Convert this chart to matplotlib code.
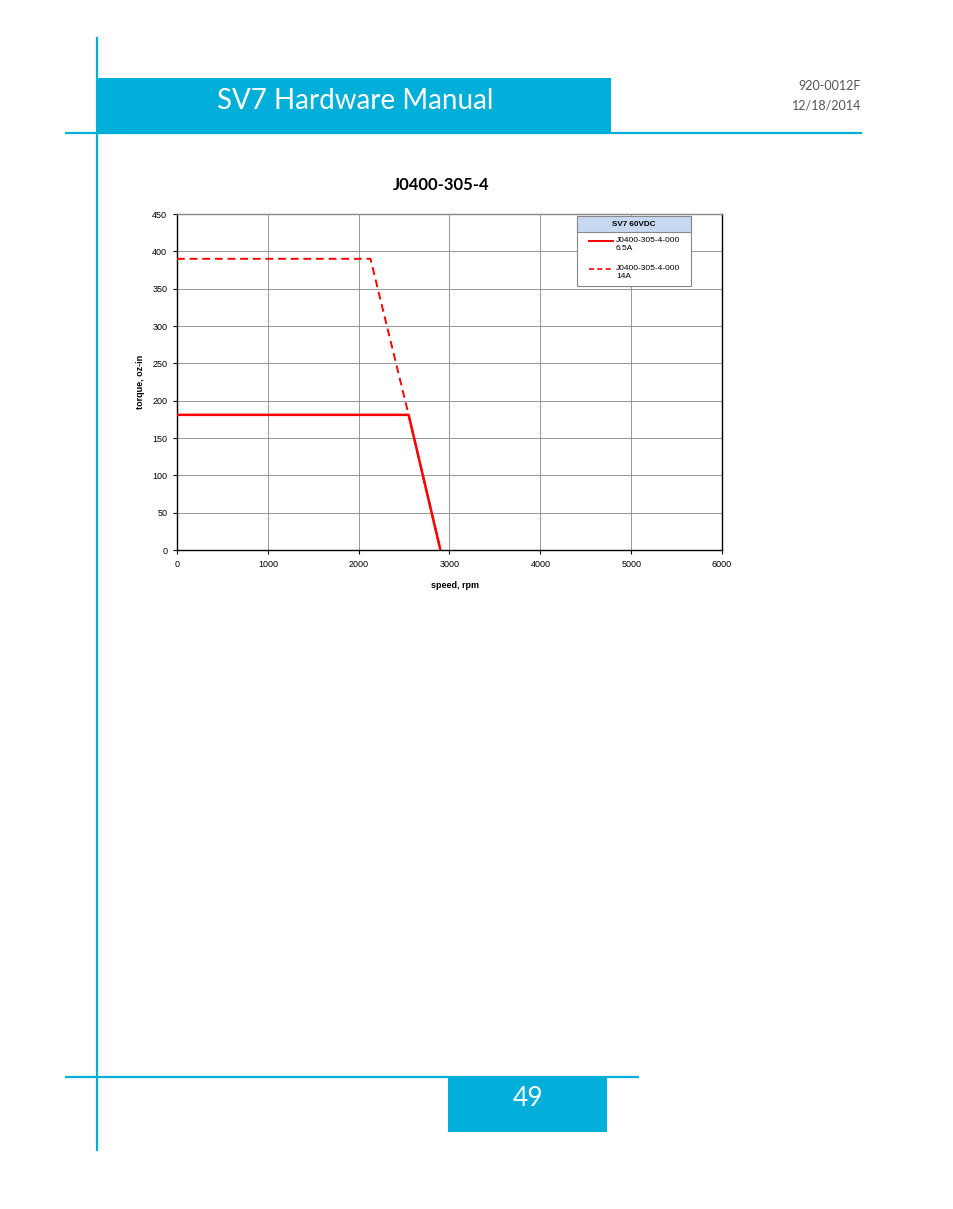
import matplotlib
matplotlib.use("Agg")
import matplotlib.pyplot as plt
from matplotlib.patches import Rectangle
from matplotlib.lines import Line2D

# torque-speed curves
speed_65a = [0, 2550, 2900]
torque_65a = [181, 181, 0]
speed_14a = [0, 2130, 2550, 2900]
torque_14a = [390, 390, 181, 0]

series_labels = ["J0400-305-4-000\n6.5A", "J0400-305-4-000\n14A"]
legend_title = "SV7 60VDC"
chart_title = "J0400-305-4"
x_ticks = [0, 1000, 2000, 3000, 4000, 5000, 6000]
y_ticks = [0, 50, 100, 150, 200, 250, 300, 350, 400, 450]

BLUE = "#00AEDA"
W, H = 954, 1209


def fx(x):
    return x / W


def fy(y):
    return 1 - y / H


fig = plt.figure(figsize=(W / 100, H / 100), dpi=100)
fig.patch.set_facecolor("white")

# page furniture
fig.add_artist(Rectangle((fx(97), fy(133)), fx(611) - fx(97), fy(78) - fy(133),
                         transform=fig.transFigure, color=BLUE, lw=0))
fig.add_artist(Line2D([fx(66), fx(861)], [fy(133), fy(133)], transform=fig.transFigure,
                      color=BLUE, lw=1.6))
fig.add_artist(Line2D([fx(97), fx(97)], [fy(38), fy(1150)], transform=fig.transFigure,
                      color=BLUE, lw=1.6))
fig.add_artist(Line2D([fx(66), fx(638)], [fy(1077), fy(1077)], transform=fig.transFigure,
                      color=BLUE, lw=1.6))
fig.add_artist(Rectangle((fx(448), fy(1132)), fx(607) - fx(448), fy(1077) - fy(1132),
                         transform=fig.transFigure, color=BLUE, lw=0))

fig.text(fx(355), fy(101), "SV7 Hardware Manual", ha="center", va="center",
         color="white", fontsize=20, family="Lato")
fig.text(fx(528), fy(1098), "49", ha="center", va="center", color="white",
         fontsize=19, family="Lato")
fig.text(fx(861), fy(86), "920-0012F", ha="right", va="center", color="#555555",
         fontsize=9, family="Lato")
fig.text(fx(861), fy(105), "12/18/2014", ha="right", va="center", color="#555555",
         fontsize=9, family="Lato")
fig.text(fx(441), fy(185), chart_title, ha="center", va="center", color="black",
         fontsize=12, fontweight="bold", family="Lato")

# chart
ax = fig.add_axes([fx(177), fy(550), fx(722) - fx(177), fy(214) - fy(550)])
ax.plot(speed_14a, torque_14a, color="red", lw=1.4, linestyle=(0, (4, 2.5)), zorder=3)
ax.plot(speed_65a, torque_65a, color="red", lw=1.8, zorder=4)

ax.set_xlim(0, 6000)
ax.set_ylim(0, 450)
ax.set_xticks(x_ticks)
ax.set_yticks(y_ticks)
ax.tick_params(labelsize=6.5, length=3, width=0.8, direction="out", pad=4)
for lbl in ax.get_xticklabels() + ax.get_yticklabels():
    lbl.set_family("Liberation Sans")
ax.grid(True, color="#888888", lw=0.6)
ax.set_axisbelow(True)
for side in ["left", "bottom", "right"]:
    ax.spines[side].set_color("black")
    ax.spines[side].set_linewidth(1.0)
ax.spines["top"].set_color("#888888")
ax.spines["top"].set_linewidth(1.0)

fig.text(fx(141), fy(382), "torque, oz-in", rotation=90, ha="center", va="center",
         fontsize=6.5, fontweight="bold", family="Liberation Sans")
fig.text(fx(455), fy(585), "speed, rpm", ha="center", va="center",
         fontsize=6.5, fontweight="bold", family="Liberation Sans")

# legend box, drawn by hand to match the header band
lx0, lx1, ly0, ly1, lyh = 577, 691, 216, 286, 232
fig.add_artist(Rectangle((fx(lx0), fy(ly1)), fx(lx1) - fx(lx0), fy(ly0) - fy(ly1),
                         transform=fig.transFigure, facecolor="white",
                         edgecolor="#888888", lw=0.8, zorder=10))
fig.add_artist(Rectangle((fx(lx0), fy(lyh)), fx(lx1) - fx(lx0), fy(ly0) - fy(lyh),
                         transform=fig.transFigure, facecolor="#C6D9F1",
                         edgecolor="#888888", lw=0.8, zorder=11))
fig.text(fx((lx0 + lx1) / 2), fy(224.5), legend_title, ha="center", va="center",
         fontsize=5.8, fontweight="bold", family="Liberation Sans", zorder=12)
styles = [dict(lw=1.4, linestyle="-"), dict(lw=1.2, linestyle=(0, (3, 2)))]
for i, (lab, st) in enumerate(zip(series_labels, styles)):
    yy = 241 + i * 28
    fig.add_artist(Line2D([fx(589), fx(613)], [fy(yy), fy(yy)], transform=fig.transFigure,
                          color="red", zorder=12, **st))
    fig.text(fx(616), fy(yy - 3.5), lab, ha="left", va="top", fontsize=6,
             family="Liberation Sans", linespacing=1.05, zorder=12)

fig.savefig("out.png", dpi=100)
